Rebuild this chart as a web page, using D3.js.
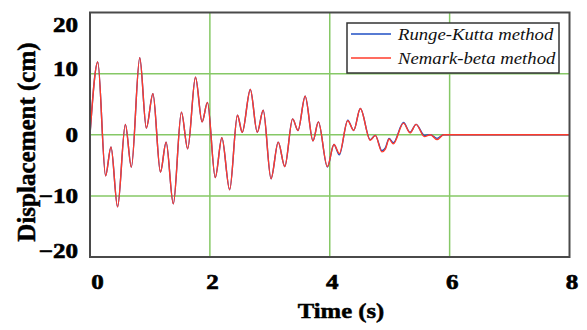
<!DOCTYPE html>
<html>
<head>
<meta charset="utf-8">
<script src="https://cdn.jsdelivr.net/npm/d3@7"></script>
<style>
  body { margin: 0; background: #fff; }
  svg { display: block; }
  text { font-family: "Liberation Serif", "Times New Roman", serif; }
</style>
</head>
<body>
<svg id="chart"></svg>
<script>
// time samples (s) at each turning point
const time = [0, 0.13, 0.26, 0.35, 0.46, 0.59, 0.69, 0.83, 0.94, 1.05, 1.175, 1.27, 1.39, 1.525, 1.63,
  1.76, 1.87, 1.96, 2.09, 2.20, 2.33, 2.46, 2.54, 2.675, 2.79, 2.89, 3.02, 3.14, 3.25, 3.38, 3.47,
  3.59, 3.72, 3.81, 3.96, 4.07, 4.16, 4.30, 4.40, 4.51, 4.675, 4.76, 4.87, 4.93, 4.99, 5.06, 5.23,
  5.34, 5.44, 5.58, 5.68, 5.79, 5.9, 6.0, 8.0];

// Nemark-beta displacement (cm)
const nemarkBeta = [0, 11.9, -6.7, -2.0, -11.8, 1.7, -5.3, 12.6, 1.1, 6.7, -6.1, -1.2, -11.3, 3.7, -2.3,
  9.4, 2.1, 5.3, -7.0, -0.5, -9.0, 3.2, 0.4, 7.4, 0.4, 4.0, -7.2, -1.2, -5.2, 2.6, 0.7,
  6.3, -1.0, 2.1, -5.2, -1.6, -3.1, 2.3, 0.7, 4.3, -0.9, -0.1, -2.8, -2.3, -0.7, -1.5, 1.9,
  0.3, 1.7, -0.3, 0, -0.8, 0, 0, 0];

// Runge-Kutta displacement (cm), almost the same, slightly apart near the end
const rungeKutta = [0, 11.9, -6.7, -2.0, -11.8, 1.7, -5.3, 12.6, 1.1, 6.7, -6.1, -1.2, -11.3, 3.7, -2.3,
  9.4, 2.1, 5.3, -7.0, -0.5, -9.0, 3.2, 0.4, 7.4, 0.4, 4.0, -7.2, -1.2, -5.2, 2.6, 0.7,
  6.3, -1.0, 2.1, -5.3, -1.6, -3.3, 2.4, 0.7, 4.3, -0.8, -0.1, -2.6, -2.1, -0.6, -1.3, 2.0,
  0.4, 1.7, -0.1, 0, -0.6, 0, 0, 0];

const xTicks = [0, 2, 4, 6, 8];
const yTicks = [-20, -10, 0, 10, 20];
const xGrid = [2, 4, 6];
const yGrid = [-10, 0, 10];
const seriesNames = ["Runge-Kutta method", "Nemark-beta method"];
const seriesColors = ["#1f4fc4", "#ff3b2b"];

const width = 587, height = 330;
const svg = d3.select("#chart").attr("width", width).attr("height", height);

const x = d3.scaleLinear().domain([0, 8]).range([90, 569.5]);
const y = d3.scaleLinear().domain([-20, 20]).range([257, 12.5]);

// widen serif text a bit, the source picture is stretched sideways
function stretch(sel, k) {
    sel.each(function () {
        let w = this.getComputedTextLength();
        d3.select(this).attr("textLength", w * k).attr("lengthAdjust", "spacingAndGlyphs");
    });
}

// grid
svg.append("g").selectAll("line")
    .data(xGrid)
    .join("line")
    .attr("x1", d => x(d)).attr("x2", d => x(d))
    .attr("y1", y(20)).attr("y2", y(-20))
    .style("stroke", "#86c866")
    .style("stroke-width", 1.5);

svg.append("g").selectAll("line")
    .data(yGrid)
    .join("line")
    .attr("x1", x(0)).attr("x2", x(8))
    .attr("y1", d => y(d)).attr("y2", d => y(d))
    .style("stroke", "#86c866")
    .style("stroke-width", 1.5);

// curves
let line = d3.line().curve(d3.curveMonotoneX);
let series = [rungeKutta, nemarkBeta];

svg.append("g").selectAll("path")
    .data(series)
    .join("path")
    .attr("d", vals => line(vals.map((v, i) => [x(time[i]), y(v)])))
    .style("fill", "none")
    .style("stroke", (d, i) => seriesColors[i])
    .style("stroke-width", 1.4);

// frame
svg.append("rect")
    .attr("x", x(0)).attr("y", y(20))
    .attr("width", x(8) - x(0)).attr("height", y(-20) - y(20))
    .style("fill", "none")
    .style("stroke", "#4a4a4a")
    .style("stroke-width", 2);

// axes (labels only)
let xAxis = svg.append("g")
    .attr("transform", `translate(0,${y(-20)})`)
    .call(d3.axisBottom(x).tickValues(xTicks).tickSize(0).tickPadding(0));
xAxis.select(".domain").remove();
xAxis.selectAll("text")
    .attr("y", 32)
    .attr("dy", 0)
    .attr("dx", d => d === 0 ? 7 : 2)
    .style("font-size", "20px")
    .style("font-weight", "bold")
    .style("fill", "#000")
    .style("stroke", "#000")
    .style("stroke-width", 0.6)
    .call(stretch, 1.25);

let yAxis = svg.append("g")
    .attr("transform", `translate(${x(0)},0)`)
    .call(d3.axisLeft(y).tickValues(yTicks).tickSize(0).tickPadding(12));
yAxis.select(".domain").remove();
yAxis.selectAll("text")
    .attr("dy", d => d === 20 ? "0.95em" : d === -20 ? "0.02em" : d === 10 ? "0.1em" : "0.35em")
    .style("font-size", "20px")
    .style("font-weight", "bold")
    .style("fill", "#000")
    .style("stroke", "#000")
    .style("stroke-width", 0.6)
    .call(stretch, 1.25);

// axis titles
svg.append("text")
    .attr("x", 341).attr("y", 318)
    .attr("text-anchor", "middle")
    .style("font-size", "22px")
    .style("font-weight", "bold")
    .style("stroke", "#000")
    .style("stroke-width", 0.5)
    .text("Time (s)")
    .call(stretch, 1.12);

svg.append("text")
    .attr("transform", "translate(35,142) rotate(-90)")
    .attr("text-anchor", "middle")
    .style("font-size", "25px")
    .style("font-weight", "bold")
    .style("stroke", "#000")
    .style("stroke-width", 0.5)
    .text("Displacement (cm)");

// legend
let legend = svg.append("g");
legend.append("rect")
    .attr("x", 347).attr("y", 23)
    .attr("width", 212).attr("height", 50)
    .style("fill", "#fff")
    .style("stroke", "#333")
    .style("stroke-width", 1.5);

let items = legend.selectAll("g.item")
    .data(seriesNames)
    .join("g")
    .attr("class", "item")
    .attr("transform", (d, i) => `translate(0,${34 + i * 24})`);

items.append("line")
    .attr("x1", 351).attr("x2", 391)
    .attr("y1", 0).attr("y2", 0)
    .style("stroke", (d, i) => seriesColors[i])
    .style("stroke-width", 1.5);

items.append("text")
    .attr("x", 398).attr("y", 6)
    .style("font-size", "17px")
    .style("font-style", "italic")
    .style("fill", "#111")
    .text(d => d)
    .call(stretch, 1.1);
</script>
</body>
</html>
